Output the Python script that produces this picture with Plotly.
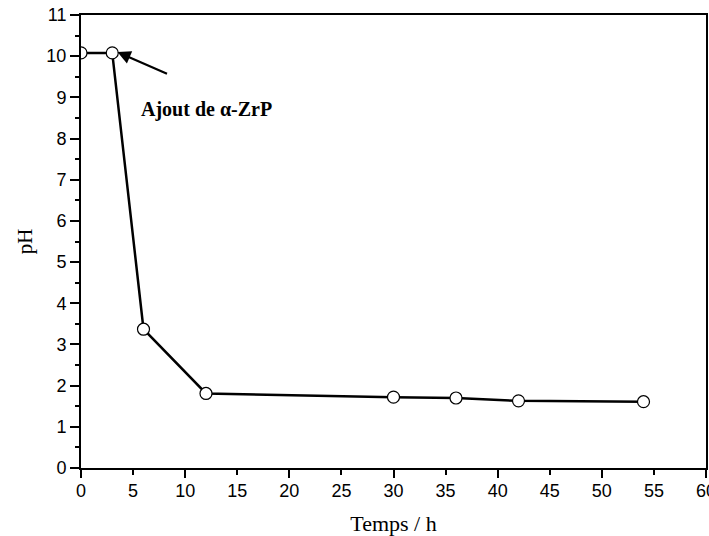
import plotly.graph_objects as go

temps = [0, 3, 6, 12, 30, 36, 42, 54]
ph = [10.08, 10.08, 3.37, 1.81, 1.72, 1.70, 1.63, 1.61]
x_ticks = [0, 5, 10, 15, 20, 25, 30, 35, 40, 45, 50, 55, 60]
y_ticks = list(range(0, 12))

SANS = "Liberation Sans, Arial, sans-serif"
SERIF = "Liberation Serif, Times New Roman, serif"

fig = go.Figure()
fig.add_trace(go.Scatter(
    x=temps, y=ph, mode="lines+markers",
    line=dict(color="black", width=2.5),
    marker=dict(symbol="circle", size=12, color="white",
                line=dict(color="black", width=1.2)),
    showlegend=False,
))
fig.add_trace(go.Scatter(x=[None], y=[None], xaxis="x2", showlegend=False, hoverinfo="skip"))

fig.add_annotation(x=3.5, y=10.1, ax=8.4, ay=9.56, xref="x", yref="y",
                   axref="x", ayref="y", text="", showarrow=True,
                   arrowhead=2, arrowsize=1.2, arrowwidth=2.2, arrowcolor="black")
fig.add_annotation(x=12.0, y=8.7, xref="x", yref="y", text="<b>Ajout de α-ZrP</b>",
                   showarrow=False,
                   font=dict(family=SERIF, size=20, color="black"))

fig.update_layout(
    width=709, height=536,
    margin=dict(l=81, r=3, t=15, b=68, autoexpand=False),
    paper_bgcolor="white", plot_bgcolor="white",
    xaxis=dict(range=[0, 60], tickvals=x_ticks, ticktext=[str(v) for v in x_ticks],
               ticks="outside", ticklen=5, tickwidth=1.5, tickcolor="black",
               ticklabeloverflow="allow",
               showline=True, linecolor="black", linewidth=2, mirror=True,
               showgrid=False, zeroline=False, automargin=False,
               tickfont=dict(family=SANS, size=18, color="black"),
               title=dict(text="Temps / h", standoff=16,
                          font=dict(family=SERIF, size=22, color="black"))),
    xaxis2=dict(range=[0, 60], overlaying="x", side="bottom", dtick=10,
                ticks="outside", ticklen=9, tickwidth=1.5, tickcolor="black",
                showticklabels=False, showgrid=False, zeroline=False, showline=False,
                automargin=False),
    yaxis=dict(range=[0, 11], tickvals=y_ticks, ticktext=[str(v) for v in y_ticks],
               ticks="outside", ticklen=9, tickwidth=1.5, tickcolor="black",
               ticklabeloverflow="allow",
               minor=dict(dtick=0.5, ticks="outside", ticklen=4, tickwidth=1.5, tickcolor="black"),
               showline=True, linecolor="black", linewidth=2, mirror=True,
               showgrid=False, zeroline=False, automargin=False,
               tickfont=dict(family=SANS, size=18, color="black"),
               title=dict(text="pH", standoff=8,
                          font=dict(family=SERIF, size=21, color="black"))),
)

fig.write_html("out.html", config={"displayModeBar": False},
               post_script="document.body.style.margin='0';document.body.style.overflow='hidden';")
